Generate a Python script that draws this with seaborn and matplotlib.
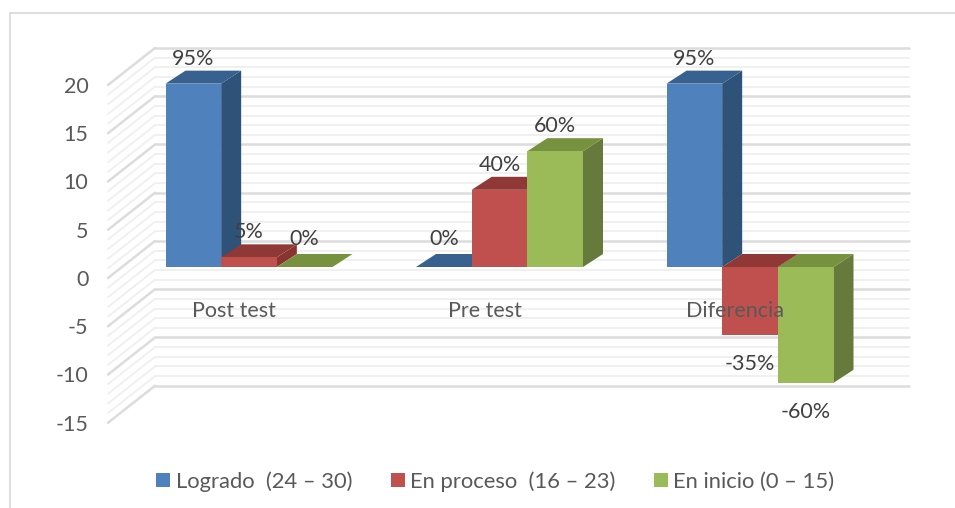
import matplotlib
matplotlib.use("Agg")
import matplotlib.pyplot as plt
from matplotlib.lines import Line2D
from matplotlib.patches import Polygon
import pandas as pd
import seaborn as sns

categories = ["Post test", "Pre test", "Diferencia"]
series = ["Logrado  (24 – 30)", "En proceso  (16 – 23)", "En inicio (0 – 15)"]
logrado = [19, 0, 19]
en_proceso = [1, 8, -7]
en_inicio = [0, 12, -12]
logrado_lbl = ["95%", "0%", "95%"]
en_proceso_lbl = ["5%", "40%", "-35%"]
en_inicio_lbl = ["0%", "60%", "-60%"]
y_ticks = [20, 15, 10, 5, 0, -5, -10, -15]

front = ["#4F81BD", "#C0504D", "#9BBB59"]
side = ["#2F5279", "#8A3432", "#657A3B"]
top = ["#386190", "#8F3836", "#76923E"]

W, H = 955, 508
X0, XS = 249.0, 250.5      # pixel of category 0, pixels per category
Y0, YS = 267.0, 9.65       # pixel of value 0, pixels per unit
L, R, T, B = 107, 909, 46, 424

sns.set_theme(style="white")
plt.rcParams["font.family"] = ["Lato", "DejaVu Sans"]
FS = 15.5
TXT = "#595959"
LBL = "#404040"

df = pd.DataFrame({
    "cat": categories * 3,
    "serie": [s for s in series for _ in categories],
    "val": logrado + en_proceso + en_inicio,
})

fig = plt.figure(figsize=(W / 100, H / 100), dpi=100, facecolor="white")
ax = fig.add_axes([L / W, 1 - B / H, (R - L) / W, (B - T) / H])
sns.barplot(data=df, x="cat", y="val", hue="serie", order=categories,
            hue_order=series, palette=front, width=2 / 3, gap=0,
            saturation=1, errorbar=None, ax=ax, zorder=5, linewidth=0)

ax.set_xlim((L - X0) / XS, (R - X0) / XS)
ax.set_ylim((Y0 - B) / YS, (Y0 - T) / YS)
ax.set_xlabel("")
ax.set_ylabel("")
ax.set_xticks([])
for s in ax.spines.values():
    s.set_visible(False)

# depth offsets in data units
front_shift = (Y0 - 278) / YS     # y-axis (front plane) vs. bar plane
wall_dx, wall_dy = 47 / XS, 37 / YS
bar_dx, bar_dy = 20 / XS, 13 / YS
x_front = (108 - X0) / XS
x_back = x_front + wall_dx
x_end = (R - X0) / XS

ax.set_yticks([v + front_shift for v in y_ticks], [str(v) for v in y_ticks])
ax.tick_params(axis="y", length=0, pad=13.5, labelsize=FS, labelcolor=TXT)

# walls
for v in range(min(y_ticks), max(y_ticks) + 1):
    major = v % 5 == 0
    col = "#DCDCDC" if major else "#F0F0F0"
    lw = 1.8 if major else 1.4
    yf = v + front_shift
    yb = yf + wall_dy
    z = 2 if major else 1
    ax.plot([x_back, x_end], [yb, yb], color=col, lw=lw, zorder=z, clip_on=False)
    ax.plot([x_front, x_back], [yf, yb], color=col, lw=lw, zorder=z, clip_on=False)

# 3-D faces of the bars
for h, container in enumerate(ax.containers):
    for c, bar in enumerate(container):
        z = 5 + h + c * 4
        x0 = bar.get_x()
        x1 = x0 + bar.get_width()
        y_a, y_b = bar.get_y(), bar.get_y() + bar.get_height()
        yt, yb = max(y_a, y_b), min(y_a, y_b)
        bar.set_zorder(z + 0.2)
        if yt > yb:
            ax.add_patch(Polygon([(x1, yb), (x1 + bar_dx, yb + bar_dy),
                                  (x1 + bar_dx, yt + bar_dy), (x1, yt)],
                                 closed=True, fc=side[h], ec="none", zorder=z))
        ax.add_patch(Polygon([(x0, yt), (x0 + bar_dx, yt + bar_dy),
                              (x1 + bar_dx, yt + bar_dy), (x1, yt)],
                             closed=True, fc=top[h], ec="none", zorder=z + 0.1))

# value labels
labels = [logrado_lbl, en_proceso_lbl, en_inicio_lbl]
for h, container in enumerate(ax.containers):
    for c, bar in enumerate(container):
        v = bar.get_height()
        off = -29.5 if v < 0 else (28 if v == 0 else 25)
        ax.annotate(labels[h][c], (bar.get_x() + bar.get_width() / 2, v),
                    xytext=(0, off * 0.72),
                    textcoords="offset points", ha="center", va="center",
                    fontsize=FS, color=LBL, zorder=100)

# category labels
for i, name in enumerate(categories):
    ax.annotate(name, (i, 0), xytext=(-15 * 0.72, -44 * 0.72),
                textcoords="offset points", ha="center", va="center",
                fontsize=FS, color=TXT, zorder=100)

ax.legend(loc="center", bbox_to_anchor=(495.5 / W, 1 - 481.5 / H),
          bbox_transform=fig.transFigure, ncol=3, frameon=False, fontsize=15.8,
          labelcolor=TXT, handlelength=0.63, handleheight=0.63,
          handletextpad=0.25, columnspacing=1.76, title=None)

# chart frame
for xs, ys in [((10, 10), (13, H)), ((10, W), (13, 13))]:
    fig.add_artist(Line2D([x / W for x in xs], [1 - y / H for y in ys],
                          color="#D9D9D9", lw=1.2))

fig.savefig("out.png", dpi=100)
